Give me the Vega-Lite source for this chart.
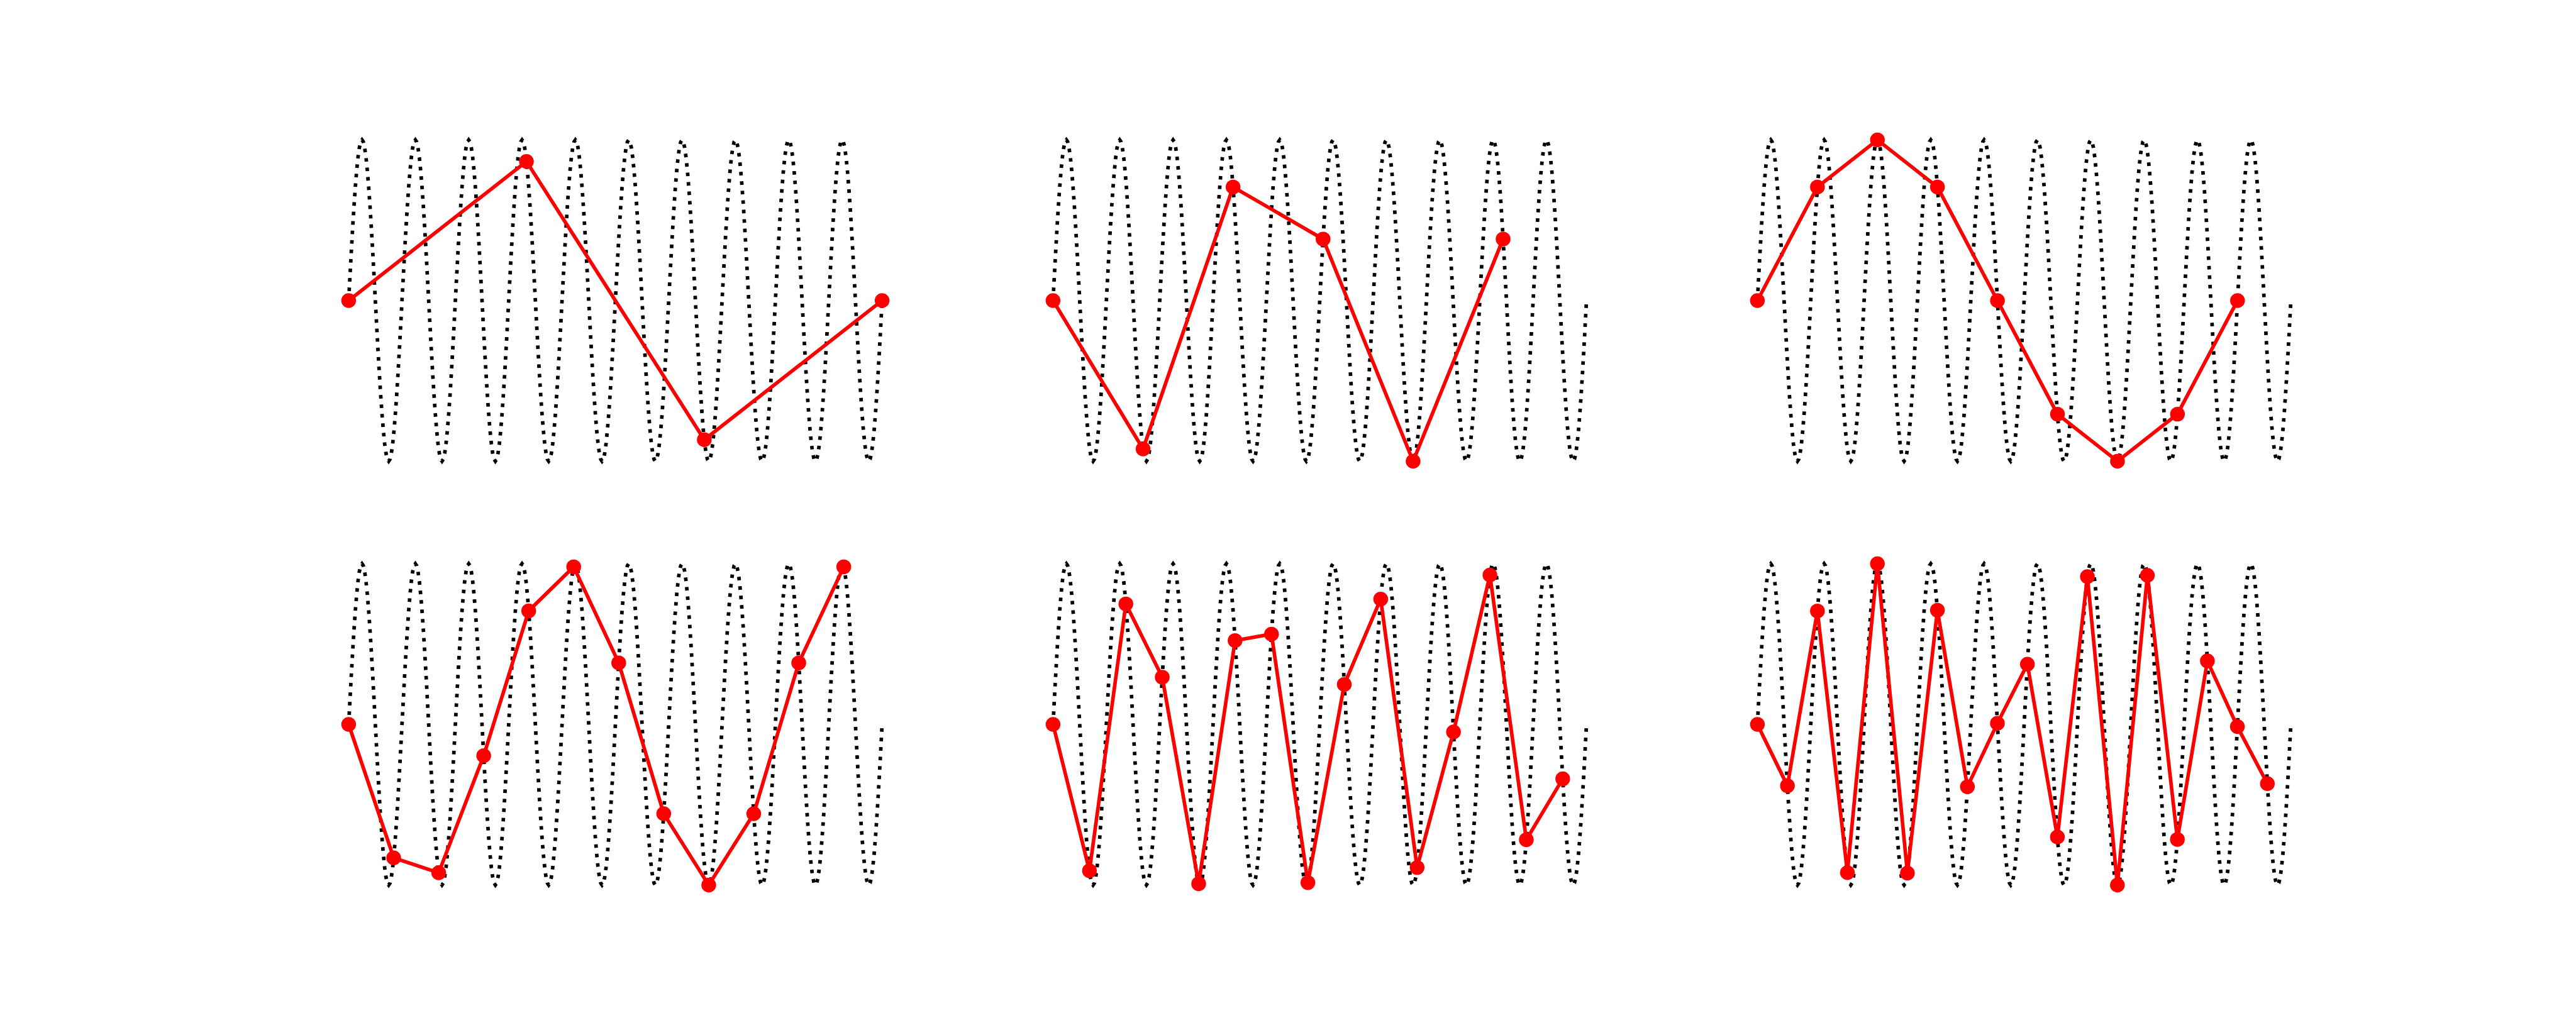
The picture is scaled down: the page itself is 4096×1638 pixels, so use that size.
{
  "$schema": "https://vega.github.io/schema/vega-lite/v6.json",
  "padding": {"left": 512, "top": 197, "right": 0, "bottom": 0},
  "config": {"view": {"stroke": null}},
  "datasets": {
    "wave": [
      {"x":0,"y":0},{"x":0.0025,"y":0.1564},{"x":0.005,"y":0.309},{"x":0.0075,"y":0.454},{"x":0.01,"y":0.5878},{"x":0.0125,"y":0.7071},{"x":0.015,"y":0.809},{"x":0.0175,"y":0.891},{"x":0.02,"y":0.9511},{"x":0.0225,"y":0.9877},{"x":0.025,"y":1},{"x":0.0275,"y":0.9877},{"x":0.03,"y":0.9511},{"x":0.0325,"y":0.891},{"x":0.035,"y":0.809},{"x":0.0375,"y":0.7071},{"x":0.04,"y":0.5878},{"x":0.0425,"y":0.454},{"x":0.045,"y":0.309},{"x":0.0475,"y":0.1564},{"x":0.05,"y":0},{"x":0.0525,"y":-0.1564},{"x":0.055,"y":-0.309},{"x":0.0575,"y":-0.454},{"x":0.06,"y":-0.5878},{"x":0.0625,"y":-0.7071},{"x":0.065,"y":-0.809},{"x":0.0675,"y":-0.891},{"x":0.07,"y":-0.9511},{"x":0.0725,"y":-0.9877},{"x":0.075,"y":-1},{"x":0.0775,"y":-0.9877},{"x":0.08,"y":-0.9511},{"x":0.0825,"y":-0.891},{"x":0.085,"y":-0.809},{"x":0.0875,"y":-0.7071},{"x":0.09,"y":-0.5878},{"x":0.0925,"y":-0.454},{"x":0.095,"y":-0.309},{"x":0.0975,"y":-0.1564},
      {"x":0.1,"y":0},{"x":0.1025,"y":0.1564},{"x":0.105,"y":0.309},{"x":0.1075,"y":0.454},{"x":0.11,"y":0.5878},{"x":0.1125,"y":0.7071},{"x":0.115,"y":0.809},{"x":0.1175,"y":0.891},{"x":0.12,"y":0.9511},{"x":0.1225,"y":0.9877},{"x":0.125,"y":1},{"x":0.1275,"y":0.9877},{"x":0.13,"y":0.9511},{"x":0.1325,"y":0.891},{"x":0.135,"y":0.809},{"x":0.1375,"y":0.7071},{"x":0.14,"y":0.5878},{"x":0.1425,"y":0.454},{"x":0.145,"y":0.309},{"x":0.1475,"y":0.1564},{"x":0.15,"y":0},{"x":0.1525,"y":-0.1564},{"x":0.155,"y":-0.309},{"x":0.1575,"y":-0.454},{"x":0.16,"y":-0.5878},{"x":0.1625,"y":-0.7071},{"x":0.165,"y":-0.809},{"x":0.1675,"y":-0.891},{"x":0.17,"y":-0.9511},{"x":0.1725,"y":-0.9877},{"x":0.175,"y":-1},{"x":0.1775,"y":-0.9877},{"x":0.18,"y":-0.9511},{"x":0.1825,"y":-0.891},{"x":0.185,"y":-0.809},{"x":0.1875,"y":-0.7071},{"x":0.19,"y":-0.5878},{"x":0.1925,"y":-0.454},{"x":0.195,"y":-0.309},{"x":0.1975,"y":-0.1564},
      {"x":0.2,"y":0},{"x":0.2025,"y":0.1564},{"x":0.205,"y":0.309},{"x":0.2075,"y":0.454},{"x":0.21,"y":0.5878},{"x":0.2125,"y":0.7071},{"x":0.215,"y":0.809},{"x":0.2175,"y":0.891},{"x":0.22,"y":0.9511},{"x":0.2225,"y":0.9877},{"x":0.225,"y":1},{"x":0.2275,"y":0.9877},{"x":0.23,"y":0.9511},{"x":0.2325,"y":0.891},{"x":0.235,"y":0.809},{"x":0.2375,"y":0.7071},{"x":0.24,"y":0.5878},{"x":0.2425,"y":0.454},{"x":0.245,"y":0.309},{"x":0.2475,"y":0.1564},{"x":0.25,"y":0},{"x":0.2525,"y":-0.1564},{"x":0.255,"y":-0.309},{"x":0.2575,"y":-0.454},{"x":0.26,"y":-0.5878},{"x":0.2625,"y":-0.7071},{"x":0.265,"y":-0.809},{"x":0.2675,"y":-0.891},{"x":0.27,"y":-0.9511},{"x":0.2725,"y":-0.9877},{"x":0.275,"y":-1},{"x":0.2775,"y":-0.9877},{"x":0.28,"y":-0.9511},{"x":0.2825,"y":-0.891},{"x":0.285,"y":-0.809},{"x":0.2875,"y":-0.7071},{"x":0.29,"y":-0.5878},{"x":0.2925,"y":-0.454},{"x":0.295,"y":-0.309},{"x":0.2975,"y":-0.1564},
      {"x":0.3,"y":0},{"x":0.3025,"y":0.1564},{"x":0.305,"y":0.309},{"x":0.3075,"y":0.454},{"x":0.31,"y":0.5878},{"x":0.3125,"y":0.7071},{"x":0.315,"y":0.809},{"x":0.3175,"y":0.891},{"x":0.32,"y":0.9511},{"x":0.3225,"y":0.9877},{"x":0.325,"y":1},{"x":0.3275,"y":0.9877},{"x":0.33,"y":0.9511},{"x":0.3325,"y":0.891},{"x":0.335,"y":0.809},{"x":0.3375,"y":0.7071},{"x":0.34,"y":0.5878},{"x":0.3425,"y":0.454},{"x":0.345,"y":0.309},{"x":0.3475,"y":0.1564},{"x":0.35,"y":0},{"x":0.3525,"y":-0.1564},{"x":0.355,"y":-0.309},{"x":0.3575,"y":-0.454},{"x":0.36,"y":-0.5878},{"x":0.3625,"y":-0.7071},{"x":0.365,"y":-0.809},{"x":0.3675,"y":-0.891},{"x":0.37,"y":-0.9511},{"x":0.3725,"y":-0.9877},{"x":0.375,"y":-1},{"x":0.3775,"y":-0.9877},{"x":0.38,"y":-0.9511},{"x":0.3825,"y":-0.891},{"x":0.385,"y":-0.809},{"x":0.3875,"y":-0.7071},{"x":0.39,"y":-0.5878},{"x":0.3925,"y":-0.454},{"x":0.395,"y":-0.309},{"x":0.3975,"y":-0.1564},
      {"x":0.4,"y":0},{"x":0.4025,"y":0.1564},{"x":0.405,"y":0.309},{"x":0.4075,"y":0.454},{"x":0.41,"y":0.5878},{"x":0.4125,"y":0.7071},{"x":0.415,"y":0.809},{"x":0.4175,"y":0.891},{"x":0.42,"y":0.9511},{"x":0.4225,"y":0.9877},{"x":0.425,"y":1},{"x":0.4275,"y":0.9877},{"x":0.43,"y":0.9511},{"x":0.4325,"y":0.891},{"x":0.435,"y":0.809},{"x":0.4375,"y":0.7071},{"x":0.44,"y":0.5878},{"x":0.4425,"y":0.454},{"x":0.445,"y":0.309},{"x":0.4475,"y":0.1564},{"x":0.45,"y":0},{"x":0.4525,"y":-0.1564},{"x":0.455,"y":-0.309},{"x":0.4575,"y":-0.454},{"x":0.46,"y":-0.5878},{"x":0.4625,"y":-0.7071},{"x":0.465,"y":-0.809},{"x":0.4675,"y":-0.891},{"x":0.47,"y":-0.9511},{"x":0.4725,"y":-0.9877},{"x":0.475,"y":-1},{"x":0.4775,"y":-0.9877},{"x":0.48,"y":-0.9511},{"x":0.4825,"y":-0.891},{"x":0.485,"y":-0.809},{"x":0.4875,"y":-0.7071},{"x":0.49,"y":-0.5878},{"x":0.4925,"y":-0.454},{"x":0.495,"y":-0.309},{"x":0.4975,"y":-0.1564},
      {"x":0.5,"y":0},{"x":0.5025,"y":0.1564},{"x":0.505,"y":0.309},{"x":0.5075,"y":0.454},{"x":0.51,"y":0.5878},{"x":0.5125,"y":0.7071},{"x":0.515,"y":0.809},{"x":0.5175,"y":0.891},{"x":0.52,"y":0.9511},{"x":0.5225,"y":0.9877},{"x":0.525,"y":1},{"x":0.5275,"y":0.9877},{"x":0.53,"y":0.9511},{"x":0.5325,"y":0.891},{"x":0.535,"y":0.809},{"x":0.5375,"y":0.7071},{"x":0.54,"y":0.5878},{"x":0.5425,"y":0.454},{"x":0.545,"y":0.309},{"x":0.5475,"y":0.1564},{"x":0.55,"y":0},{"x":0.5525,"y":-0.1564},{"x":0.555,"y":-0.309},{"x":0.5575,"y":-0.454},{"x":0.56,"y":-0.5878},{"x":0.5625,"y":-0.7071},{"x":0.565,"y":-0.809},{"x":0.5675,"y":-0.891},{"x":0.57,"y":-0.9511},{"x":0.5725,"y":-0.9877},{"x":0.575,"y":-1},{"x":0.5775,"y":-0.9877},{"x":0.58,"y":-0.9511},{"x":0.5825,"y":-0.891},{"x":0.585,"y":-0.809},{"x":0.5875,"y":-0.7071},{"x":0.59,"y":-0.5878},{"x":0.5925,"y":-0.454},{"x":0.595,"y":-0.309},{"x":0.5975,"y":-0.1564},
      {"x":0.6,"y":0},{"x":0.6025,"y":0.1564},{"x":0.605,"y":0.309},{"x":0.6075,"y":0.454},{"x":0.61,"y":0.5878},{"x":0.6125,"y":0.7071},{"x":0.615,"y":0.809},{"x":0.6175,"y":0.891},{"x":0.62,"y":0.9511},{"x":0.6225,"y":0.9877},{"x":0.625,"y":1},{"x":0.6275,"y":0.9877},{"x":0.63,"y":0.9511},{"x":0.6325,"y":0.891},{"x":0.635,"y":0.809},{"x":0.6375,"y":0.7071},{"x":0.64,"y":0.5878},{"x":0.6425,"y":0.454},{"x":0.645,"y":0.309},{"x":0.6475,"y":0.1564},{"x":0.65,"y":0},{"x":0.6525,"y":-0.1564},{"x":0.655,"y":-0.309},{"x":0.6575,"y":-0.454},{"x":0.66,"y":-0.5878},{"x":0.6625,"y":-0.7071},{"x":0.665,"y":-0.809},{"x":0.6675,"y":-0.891},{"x":0.67,"y":-0.9511},{"x":0.6725,"y":-0.9877},{"x":0.675,"y":-1},{"x":0.6775,"y":-0.9877},{"x":0.68,"y":-0.9511},{"x":0.6825,"y":-0.891},{"x":0.685,"y":-0.809},{"x":0.6875,"y":-0.7071},{"x":0.69,"y":-0.5878},{"x":0.6925,"y":-0.454},{"x":0.695,"y":-0.309},{"x":0.6975,"y":-0.1564},
      {"x":0.7,"y":0},{"x":0.7025,"y":0.1564},{"x":0.705,"y":0.309},{"x":0.7075,"y":0.454},{"x":0.71,"y":0.5878},{"x":0.7125,"y":0.7071},{"x":0.715,"y":0.809},{"x":0.7175,"y":0.891},{"x":0.72,"y":0.9511},{"x":0.7225,"y":0.9877},{"x":0.725,"y":1},{"x":0.7275,"y":0.9877},{"x":0.73,"y":0.9511},{"x":0.7325,"y":0.891},{"x":0.735,"y":0.809},{"x":0.7375,"y":0.7071},{"x":0.74,"y":0.5878},{"x":0.7425,"y":0.454},{"x":0.745,"y":0.309},{"x":0.7475,"y":0.1564},{"x":0.75,"y":0},{"x":0.7525,"y":-0.1564},{"x":0.755,"y":-0.309},{"x":0.7575,"y":-0.454},{"x":0.76,"y":-0.5878},{"x":0.7625,"y":-0.7071},{"x":0.765,"y":-0.809},{"x":0.7675,"y":-0.891},{"x":0.77,"y":-0.9511},{"x":0.7725,"y":-0.9877},{"x":0.775,"y":-1},{"x":0.7775,"y":-0.9877},{"x":0.78,"y":-0.9511},{"x":0.7825,"y":-0.891},{"x":0.785,"y":-0.809},{"x":0.7875,"y":-0.7071},{"x":0.79,"y":-0.5878},{"x":0.7925,"y":-0.454},{"x":0.795,"y":-0.309},{"x":0.7975,"y":-0.1564},
      {"x":0.8,"y":0},{"x":0.8025,"y":0.1564},{"x":0.805,"y":0.309},{"x":0.8075,"y":0.454},{"x":0.81,"y":0.5878},{"x":0.8125,"y":0.7071},{"x":0.815,"y":0.809},{"x":0.8175,"y":0.891},{"x":0.82,"y":0.9511},{"x":0.8225,"y":0.9877},{"x":0.825,"y":1},{"x":0.8275,"y":0.9877},{"x":0.83,"y":0.9511},{"x":0.8325,"y":0.891},{"x":0.835,"y":0.809},{"x":0.8375,"y":0.7071},{"x":0.84,"y":0.5878},{"x":0.8425,"y":0.454},{"x":0.845,"y":0.309},{"x":0.8475,"y":0.1564},{"x":0.85,"y":0},{"x":0.8525,"y":-0.1564},{"x":0.855,"y":-0.309},{"x":0.8575,"y":-0.454},{"x":0.86,"y":-0.5878},{"x":0.8625,"y":-0.7071},{"x":0.865,"y":-0.809},{"x":0.8675,"y":-0.891},{"x":0.87,"y":-0.9511},{"x":0.8725,"y":-0.9877},{"x":0.875,"y":-1},{"x":0.8775,"y":-0.9877},{"x":0.88,"y":-0.9511},{"x":0.8825,"y":-0.891},{"x":0.885,"y":-0.809},{"x":0.8875,"y":-0.7071},{"x":0.89,"y":-0.5878},{"x":0.8925,"y":-0.454},{"x":0.895,"y":-0.309},{"x":0.8975,"y":-0.1564},
      {"x":0.9,"y":0},{"x":0.9025,"y":0.1564},{"x":0.905,"y":0.309},{"x":0.9075,"y":0.454},{"x":0.91,"y":0.5878},{"x":0.9125,"y":0.7071},{"x":0.915,"y":0.809},{"x":0.9175,"y":0.891},{"x":0.92,"y":0.9511},{"x":0.9225,"y":0.9877},{"x":0.925,"y":1},{"x":0.9275,"y":0.9877},{"x":0.93,"y":0.9511},{"x":0.9325,"y":0.891},{"x":0.935,"y":0.809},{"x":0.9375,"y":0.7071},{"x":0.94,"y":0.5878},{"x":0.9425,"y":0.454},{"x":0.945,"y":0.309},{"x":0.9475,"y":0.1564},{"x":0.95,"y":0},{"x":0.9525,"y":-0.1564},{"x":0.955,"y":-0.309},{"x":0.9575,"y":-0.454},{"x":0.96,"y":-0.5878},{"x":0.9625,"y":-0.7071},{"x":0.965,"y":-0.809},{"x":0.9675,"y":-0.891},{"x":0.97,"y":-0.9511},{"x":0.9725,"y":-0.9877},{"x":0.975,"y":-1},{"x":0.9775,"y":-0.9877},{"x":0.98,"y":-0.9511},{"x":0.9825,"y":-0.891},{"x":0.985,"y":-0.809},{"x":0.9875,"y":-0.7071},{"x":0.99,"y":-0.5878},{"x":0.9925,"y":-0.454},{"x":0.995,"y":-0.309},{"x":0.9975,"y":-0.1564},
      {"x":1,"y":0}
    ],
    "s1": [{"x":0,"y":0},{"x":0.3333,"y":0.866},{"x":0.6667,"y":-0.866},{"x":1,"y":0}],
    "s2": [{"x":0,"y":0},{"x":0.16875,"y":-0.924},{"x":0.3375,"y":0.707},{"x":0.50625,"y":0.383},{"x":0.675,"y":-1},{"x":0.84375,"y":0.383}],
    "s3": [{"x":0,"y":0},{"x":0.1125,"y":0.707},{"x":0.225,"y":1},{"x":0.3375,"y":0.707},{"x":0.45,"y":0},{"x":0.5625,"y":-0.707},{"x":0.675,"y":-1},{"x":0.7875,"y":-0.707},{"x":0.9,"y":0}],
    "s4": [{"x":0,"y":0},{"x":0.084375,"y":-0.831},{"x":0.16875,"y":-0.924},{"x":0.253125,"y":-0.195},{"x":0.3375,"y":0.707},{"x":0.421875,"y":0.981},{"x":0.50625,"y":0.383},{"x":0.590625,"y":-0.556},{"x":0.675,"y":-1},{"x":0.759375,"y":-0.556},{"x":0.84375,"y":0.383},{"x":0.928125,"y":0.981}],
    "s5": [{"x":0,"y":0},{"x":0.06825,"y":-0.911},{"x":0.1365,"y":0.75},{"x":0.20475,"y":0.294},{"x":0.273,"y":-0.992},{"x":0.34125,"y":0.522},{"x":0.4095,"y":0.562},{"x":0.47775,"y":-0.985},{"x":0.546,"y":0.249},{"x":0.61425,"y":0.78},{"x":0.6825,"y":-0.891},{"x":0.75075,"y":-0.047},{"x":0.819,"y":0.93},{"x":0.88725,"y":-0.718},{"x":0.9555,"y":-0.339}],
    "s6": [{"x":0,"y":0},{"x":0.05624,"y":-0.382},{"x":0.11247,"y":0.706},{"x":0.16871,"y":-0.923},{"x":0.22494,"y":1},{"x":0.28118,"y":-0.926},{"x":0.33742,"y":0.711},{"x":0.39365,"y":-0.388},{"x":0.44989,"y":0.007},{"x":0.50612,"y":0.375},{"x":0.56236,"y":-0.701},{"x":0.6186,"y":0.92},{"x":0.67483,"y":-1},{"x":0.73107,"y":0.928},{"x":0.7873,"y":-0.716},{"x":0.84354,"y":0.395},{"x":0.89978,"y":-0.014},{"x":0.95601,"y":-0.369}]
  },
  "vconcat": [
    {
      "spacing": 187,
      "hconcat": [
        {"width": 933, "height": 562, "layer": [
          {"data": {"name": "wave"}, "mark": {"type": "line", "color": "black", "strokeWidth": 5.7, "strokeDash": [5.7, 9.4], "strokeCap": "butt"}, "encoding": {"x": {"field": "x", "type": "quantitative", "scale": {"domain": [-0.05, 1.05], "nice": false, "zero": false}, "axis": null}, "y": {"field": "y", "type": "quantitative", "scale": {"domain": [-1.1, 1.1], "nice": false, "zero": false}, "axis": null}}},
          {"data": {"name": "s1"}, "mark": {"type": "line", "color": "#ff0000", "strokeWidth": 5.7}, "encoding": {"x": {"field": "x", "type": "quantitative"}, "y": {"field": "y", "type": "quantitative"}}},
          {"data": {"name": "s1"}, "mark": {"type": "circle", "color": "#ff0000", "size": 550, "opacity": 1}, "encoding": {"x": {"field": "x", "type": "quantitative"}, "y": {"field": "y", "type": "quantitative"}}}
        ]},
        {"width": 933, "height": 562, "layer": [
          {"data": {"name": "wave"}, "mark": {"type": "line", "color": "black", "strokeWidth": 5.7, "strokeDash": [5.7, 9.4], "strokeCap": "butt"}, "encoding": {"x": {"field": "x", "type": "quantitative", "scale": {"domain": [-0.05, 1.05], "nice": false, "zero": false}, "axis": null}, "y": {"field": "y", "type": "quantitative", "scale": {"domain": [-1.1, 1.1], "nice": false, "zero": false}, "axis": null}}},
          {"data": {"name": "s2"}, "mark": {"type": "line", "color": "#ff0000", "strokeWidth": 5.7}, "encoding": {"x": {"field": "x", "type": "quantitative"}, "y": {"field": "y", "type": "quantitative"}}},
          {"data": {"name": "s2"}, "mark": {"type": "circle", "color": "#ff0000", "size": 550, "opacity": 1}, "encoding": {"x": {"field": "x", "type": "quantitative"}, "y": {"field": "y", "type": "quantitative"}}}
        ]},
        {"width": 933, "height": 562, "layer": [
          {"data": {"name": "wave"}, "mark": {"type": "line", "color": "black", "strokeWidth": 5.7, "strokeDash": [5.7, 9.4], "strokeCap": "butt"}, "encoding": {"x": {"field": "x", "type": "quantitative", "scale": {"domain": [-0.05, 1.05], "nice": false, "zero": false}, "axis": null}, "y": {"field": "y", "type": "quantitative", "scale": {"domain": [-1.1, 1.1], "nice": false, "zero": false}, "axis": null}}},
          {"data": {"name": "s3"}, "mark": {"type": "line", "color": "#ff0000", "strokeWidth": 5.7}, "encoding": {"x": {"field": "x", "type": "quantitative"}, "y": {"field": "y", "type": "quantitative"}}},
          {"data": {"name": "s3"}, "mark": {"type": "circle", "color": "#ff0000", "size": 550, "opacity": 1}, "encoding": {"x": {"field": "x", "type": "quantitative"}, "y": {"field": "y", "type": "quantitative"}}}
        ]}
      ]
    },
    {
      "spacing": 187,
      "hconcat": [
        {"width": 933, "height": 562, "layer": [
          {"data": {"name": "wave"}, "mark": {"type": "line", "color": "black", "strokeWidth": 5.7, "strokeDash": [5.7, 9.4], "strokeCap": "butt"}, "encoding": {"x": {"field": "x", "type": "quantitative", "scale": {"domain": [-0.05, 1.05], "nice": false, "zero": false}, "axis": null}, "y": {"field": "y", "type": "quantitative", "scale": {"domain": [-1.1, 1.1], "nice": false, "zero": false}, "axis": null}}},
          {"data": {"name": "s4"}, "mark": {"type": "line", "color": "#ff0000", "strokeWidth": 5.7}, "encoding": {"x": {"field": "x", "type": "quantitative"}, "y": {"field": "y", "type": "quantitative"}}},
          {"data": {"name": "s4"}, "mark": {"type": "circle", "color": "#ff0000", "size": 550, "opacity": 1}, "encoding": {"x": {"field": "x", "type": "quantitative"}, "y": {"field": "y", "type": "quantitative"}}}
        ]},
        {"width": 933, "height": 562, "layer": [
          {"data": {"name": "wave"}, "mark": {"type": "line", "color": "black", "strokeWidth": 5.7, "strokeDash": [5.7, 9.4], "strokeCap": "butt"}, "encoding": {"x": {"field": "x", "type": "quantitative", "scale": {"domain": [-0.05, 1.05], "nice": false, "zero": false}, "axis": null}, "y": {"field": "y", "type": "quantitative", "scale": {"domain": [-1.1, 1.1], "nice": false, "zero": false}, "axis": null}}},
          {"data": {"name": "s5"}, "mark": {"type": "line", "color": "#ff0000", "strokeWidth": 5.7}, "encoding": {"x": {"field": "x", "type": "quantitative"}, "y": {"field": "y", "type": "quantitative"}}},
          {"data": {"name": "s5"}, "mark": {"type": "circle", "color": "#ff0000", "size": 550, "opacity": 1}, "encoding": {"x": {"field": "x", "type": "quantitative"}, "y": {"field": "y", "type": "quantitative"}}}
        ]},
        {"width": 933, "height": 562, "layer": [
          {"data": {"name": "wave"}, "mark": {"type": "line", "color": "black", "strokeWidth": 5.7, "strokeDash": [5.7, 9.4], "strokeCap": "butt"}, "encoding": {"x": {"field": "x", "type": "quantitative", "scale": {"domain": [-0.05, 1.05], "nice": false, "zero": false}, "axis": null}, "y": {"field": "y", "type": "quantitative", "scale": {"domain": [-1.1, 1.1], "nice": false, "zero": false}, "axis": null}}},
          {"data": {"name": "s6"}, "mark": {"type": "line", "color": "#ff0000", "strokeWidth": 5.7}, "encoding": {"x": {"field": "x", "type": "quantitative"}, "y": {"field": "y", "type": "quantitative"}}},
          {"data": {"name": "s6"}, "mark": {"type": "circle", "color": "#ff0000", "size": 550, "opacity": 1}, "encoding": {"x": {"field": "x", "type": "quantitative"}, "y": {"field": "y", "type": "quantitative"}}}
        ]}
      ]
    }
  ],
  "spacing": 112
}
